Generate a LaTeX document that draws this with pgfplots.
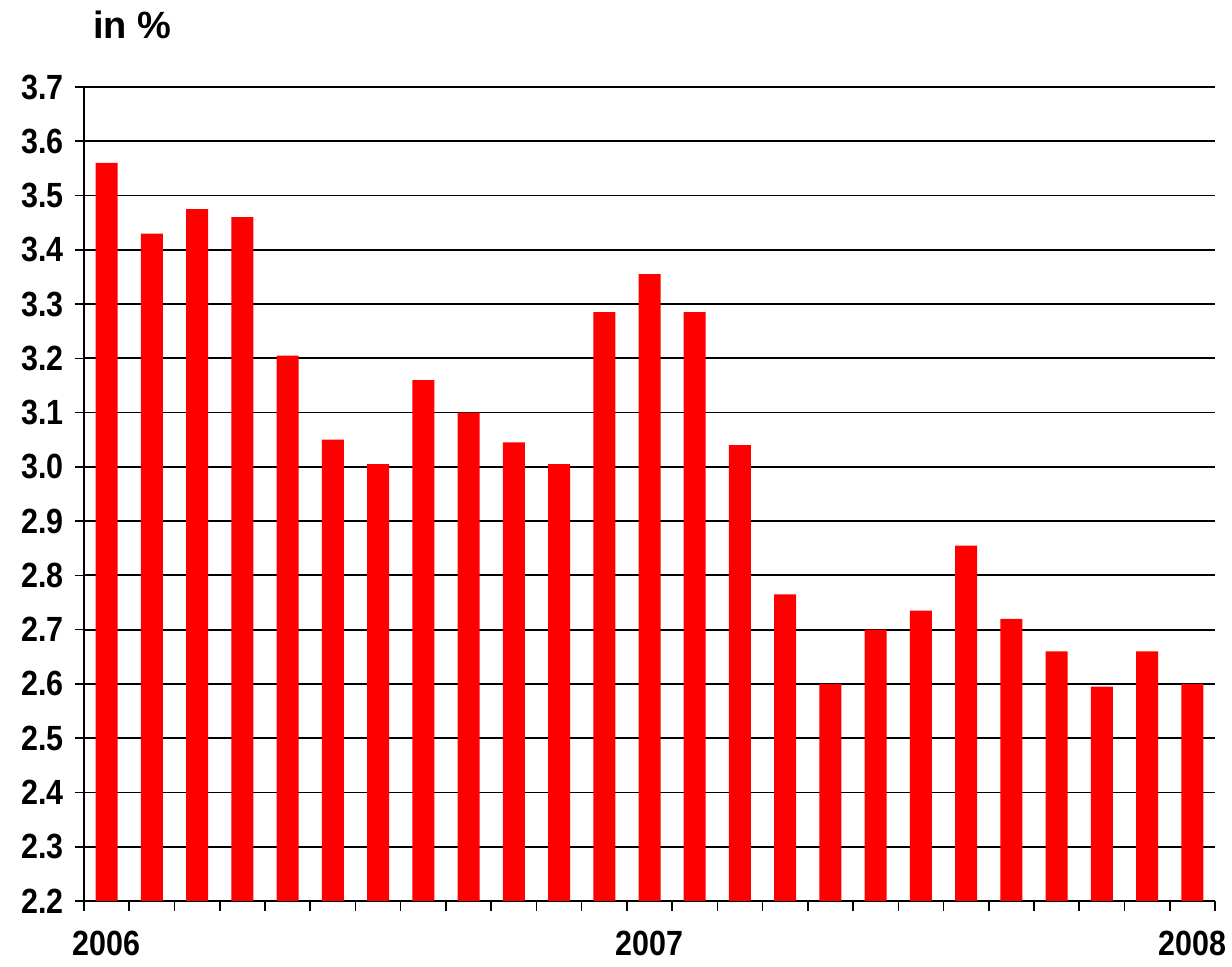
\documentclass[border=0pt]{standalone}
\usepackage{pgfplots}
\pgfplotsset{compat=1.18}
\usepackage{fontspec}
\setmainfont{Liberation Sans}
\newfontfamily\narrowfont{Liberation Sans}[FakeStretch=0.87]
\begin{document}
\begin{tikzpicture}
\begin{axis}[
  name=ax,
  scale only axis,
  width=565.5pt, height=407pt,
  xmin=-0.5, xmax=24.5,
  ymin=2.2, ymax=3.7,
  ytick={2.2,2.3,...,3.71},
  yticklabel style={/pgf/number format/fixed, /pgf/number format/fixed zerofill, /pgf/number format/precision=1, /pgf/number format/assume math mode=true, xshift=-2pt},
  xtick={0,12,24},
  xticklabels={2006,2007,2008},
  minor xtick={-0.5,0.5,...,24.6},
  axis x line*=bottom,
  axis y line*=left,
  axis line style={black, line width=1pt},
  tick align=outside,
  tick style={black, line width=0.8pt},
  major x tick style={draw=none},
  major tick length=4.5pt,
  minor tick length=5pt,
  ymajorgrids,
  grid style={black, line width=0.9pt},
  ticklabel style={font=\narrowfont\fontsize{17.5}{20}\selectfont\bfseries},
  xticklabel style={yshift=-9.5pt, inner sep=1pt},
  ybar,
  bar width=11pt,
]
\addplot[fill=red, draw=none] coordinates {
(0,3.56) (1,3.43) (2,3.475) (3,3.46) (4,3.205) (5,3.05) (6,3.005) (7,3.16)
(8,3.10) (9,3.045) (10,3.005) (11,3.285) (12,3.355) (13,3.285) (14,3.04)
(15,2.765) (16,2.60) (17,2.70) (18,2.735) (19,2.855) (20,2.72) (21,2.66)
(22,2.595) (23,2.66) (24,2.60)
};
\end{axis}
\node[anchor=base west, inner sep=0pt, font=\fontsize{19}{22}\selectfont\bfseries] at ([shift={(4.5pt,24pt)}]ax.north west) {in \%};
\pgfresetboundingbox
\path ([shift={(-42pt,-33pt)}]ax.south west) rectangle ([shift={(8.5pt,43.5pt)}]ax.north east);
\end{tikzpicture}
\end{document}
